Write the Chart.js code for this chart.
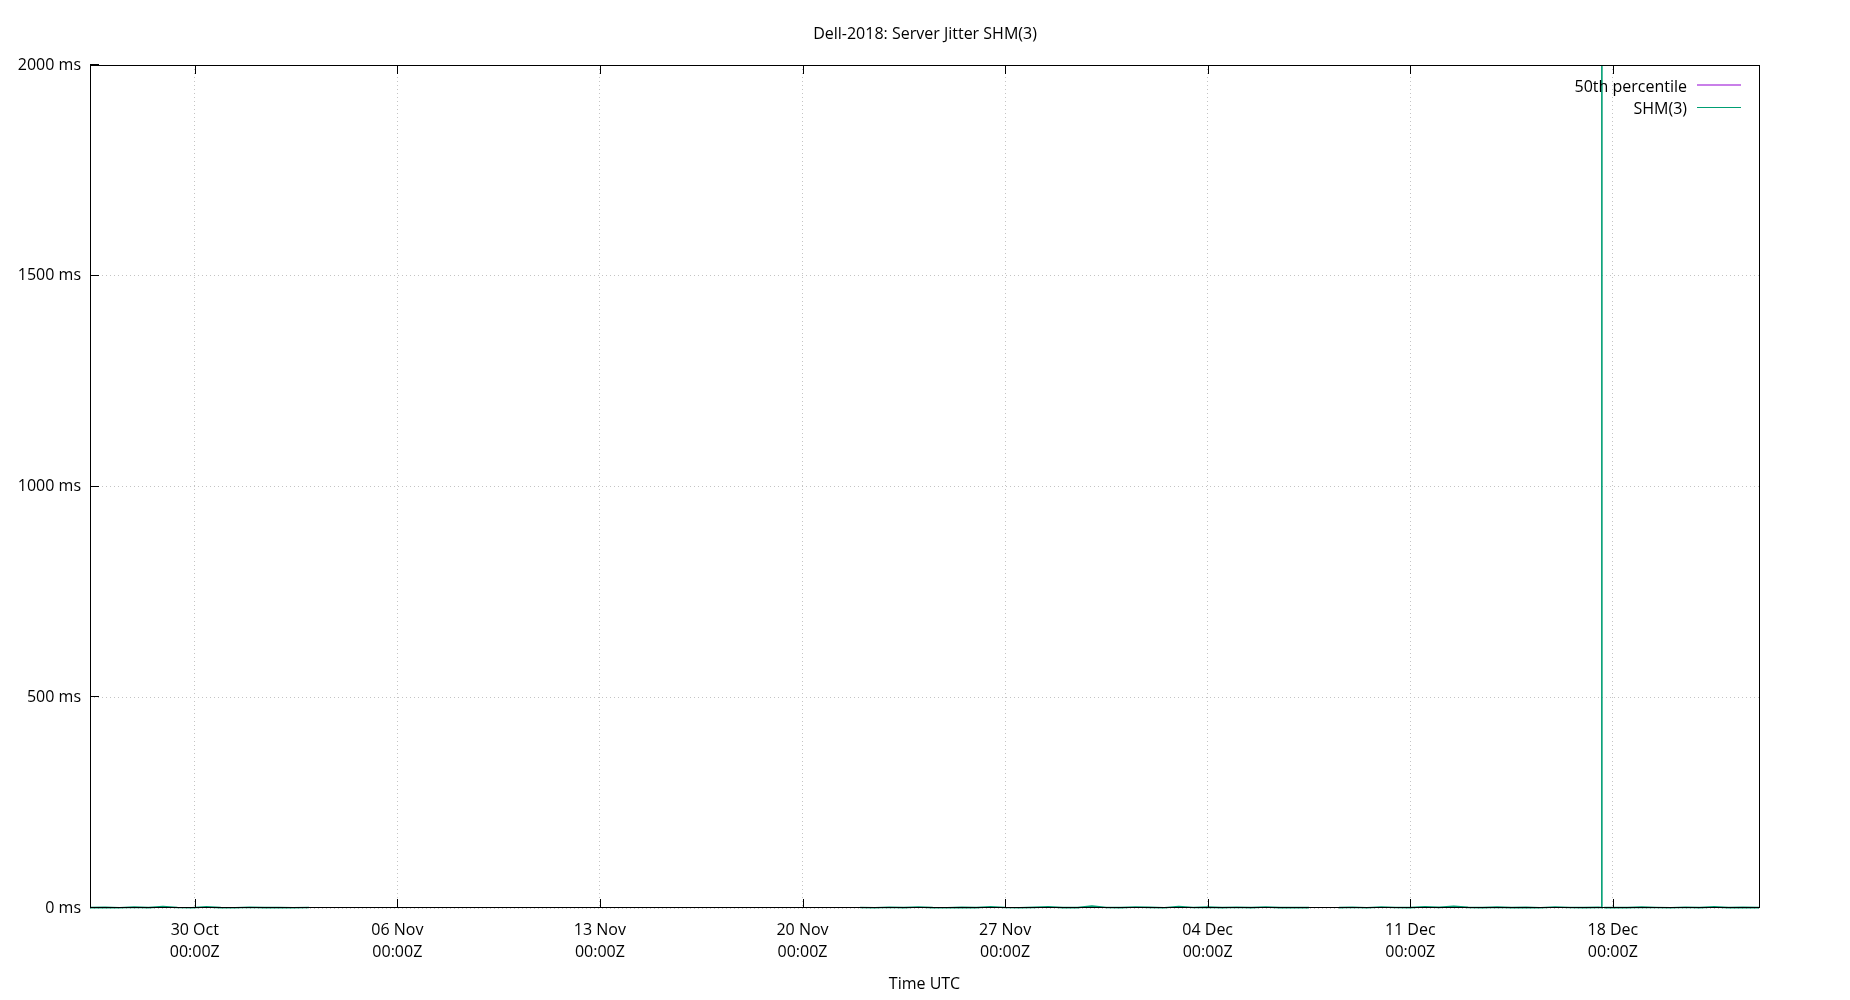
<!DOCTYPE html>
<html>
<head>
<meta charset="utf-8">
<script src="https://cdn.jsdelivr.net/npm/chart.js@4.4.1/dist/chart.umd.min.js"></script>
<style>
  html, body { margin: 0; padding: 0; background: #ffffff; }
  #wrap { width: 1850px; height: 1000px; }
</style>
</head>
<body>
<div id="wrap"><canvas id="c" width="1850" height="1000"></canvas></div>
<script>
// ---- data (days relative to 30 Oct 00:00Z; values in ms) ----
const chartTitle = "Dell-2018: Server Jitter SHM(3)";
const xAxisTitle = "Time UTC";
const xTickDays = [0, 7, 14, 21, 28, 35, 42, 49];
const xTickLabels = [
  ["30 Oct", "00:00Z"], ["06 Nov", "00:00Z"], ["13 Nov", "00:00Z"], ["20 Nov", "00:00Z"],
  ["27 Nov", "00:00Z"], ["04 Dec", "00:00Z"], ["11 Dec", "00:00Z"], ["18 Dec", "00:00Z"]
];
const yTicksMs = [0, 500, 1000, 1500, 2000];
const xRangeDays = [-3.62, 54.05];
const yRangeMs = [0, 2000];

const timesDays = [
  -3.62, -3.1, -2.6, -2.1, -1.6, -1.1, -0.6, -0.1, 0.4, 0.9, 1.4, 1.9, 2.4, 2.9, 3.4, 3.95,
  8.0,
  22.99, 23.5, 24.0, 24.5, 25.0, 25.5, 26.0, 26.5, 27.0, 27.5, 28.0, 28.5, 29.0, 29.5, 30.0, 30.5,
  31.0, 31.5, 32.0, 32.5, 33.0, 33.5, 34.0, 34.5, 35.0, 35.5, 36.0, 36.5, 37.0, 37.5, 38.0, 38.5,
  39.0,
  39.54, 40.0, 40.5, 41.0, 41.5, 42.0, 42.5, 43.0, 43.5, 44.0, 44.5, 45.0, 45.5, 46.0, 46.5, 47.0,
  47.5, 48.0, 48.5, 48.62,
  48.64,
  48.65,
  48.70, 49.0, 49.5, 50.0, 50.5, 51.0, 51.5, 52.0, 52.5, 53.0, 53.5, 54.05
];
const shmJitterMs = [
  0.8, 1.4, 0.6, 2.1, 0.9, 3.2, 1.1, 0.7, 2.6, 1.0, 0.5, 1.8, 0.9, 1.3, 0.6, 1.2,
  null,
  1.1, 0.7, 1.9, 0.8, 2.4, 1.0, 0.6, 1.5, 0.9, 2.8, 1.2, 0.7, 1.6, 3.1, 1.0, 0.8,
  4.6, 1.3, 0.9, 2.2, 1.4, 0.7, 3.4, 1.1, 2.0, 0.8, 1.7, 1.0, 2.5, 0.9, 1.3, 0.8,
  null,
  1.0, 1.8, 0.7, 2.3, 1.1, 0.9, 2.9, 1.4, 3.8, 1.6, 0.8, 2.1, 1.0, 1.5, 0.7, 2.4,
  1.2, 0.9, 1.6, 1.1,
  50000,
  null,
  0.9, 1.3, 0.8, 2.0, 1.1, 0.7, 1.9, 1.0, 2.6, 0.8, 1.4, 1.0
];
const percentileTimesDays = [-3.62, 54.05];
const percentile50Ms = [0.9, 0.9];

const seriesLabels = ["50th percentile", "SHM(3)"];
const seriesColors = ["#9400d3", "#009e73"];

// ---- chart ----
const FONT = "'Open Sans', 'Noto Sans', sans-serif";

const framePlugin = {
  id: 'frame',
  afterDatasetsDraw(chart) {
    const {ctx, chartArea: a, scales} = chart;
    ctx.save();
    ctx.strokeStyle = '#000';
    ctx.lineWidth = 1;
    ctx.beginPath();
    scales.x.ticks.forEach(t => {
      const px = Math.round(scales.x.getPixelForValue(t.value)) + 0.5;
      ctx.moveTo(px, a.bottom); ctx.lineTo(px, a.bottom - 9);
      ctx.moveTo(px, a.top); ctx.lineTo(px, a.top + 9);
    });
    scales.y.ticks.forEach(t => {
      const py = Math.round(scales.y.getPixelForValue(t.value)) - 0.5;
      ctx.moveTo(a.left, py); ctx.lineTo(a.left + 9, py);
    });
    ctx.stroke();
    ctx.strokeRect(Math.round(a.left) + 0.5, Math.round(a.top) + 0.5,
                   Math.round(a.right - a.left), Math.round(a.bottom - a.top) - 1);
    ctx.restore();
  },
  afterDraw(chart) {
    const {ctx} = chart;
    ctx.save();
    ctx.font = "16px " + FONT;
    ctx.textAlign = 'right';
    ctx.textBaseline = 'alphabetic';
    const rows = [{base: 91.5, line: 85}, {base: 113.5, line: 107.5}];
    chart.data.datasets.forEach((ds, i) => {
      ctx.fillStyle = '#000';
      ctx.fillText(ds.label, 1687, rows[i].base);
      ctx.strokeStyle = ds.borderColor;
      ctx.lineWidth = 1.2;
      ctx.beginPath();
      ctx.moveTo(1697, rows[i].line);
      ctx.lineTo(1741, rows[i].line);
      ctx.stroke();
    });
    ctx.restore();
  }
};

new Chart(document.getElementById('c'), {
  type: 'line',
  data: {
    datasets: [
      {
        label: seriesLabels[0],
        data: percentileTimesDays.map((t, i) => ({x: t, y: percentile50Ms[i]})),
        borderColor: seriesColors[0],
        backgroundColor: seriesColors[0],
        borderWidth: 1,
        pointRadius: 0,
        yAxisID: 'y',
        order: 1
      },
      {
        label: seriesLabels[1],
        data: timesDays.map((t, i) => ({x: t, y: shmJitterMs[i]})),
        borderColor: seriesColors[1],
        backgroundColor: seriesColors[1],
        borderWidth: 1.6,
        pointRadius: 0,
        tension: 0,
        spanGaps: false,
        yAxisID: 'y',
        clip: {left: 0, top: 0, right: 0, bottom: 3},
        order: 0
      }
    ]
  },
  options: {
    responsive: false,
    animation: false,
    devicePixelRatio: 1,
    layout: { padding: 0 },
    plugins: {
      legend: { display: false },
      tooltip: { enabled: false },
      title: {
        display: true,
        text: chartTitle,
        color: '#000',
        font: { family: FONT, size: 16, weight: 'normal', lineHeight: 1.2 },
        padding: { top: 24.5, bottom: 21.3 }
      }
    },
    scales: {
      x: {
        type: 'linear',
        min: xRangeDays[0],
        max: xRangeDays[1],
        afterBuildTicks: (scale) => { scale.ticks = xTickDays.map(v => ({value: v})); },
        afterFit: (scale) => { scale.height = 92; },
        ticks: {
          autoSkip: false,
          maxRotation: 0,
          padding: 11,
          color: '#000',
          font: { family: FONT, size: 16, lineHeight: 1.4 },
          callback: (v, i) => xTickLabels[i]
        },
        grid: { color: '#c4c4c4', lineWidth: 1, drawTicks: false },
        border: { display: false, dash: [1, 3] },
        title: {
          display: true,
          text: xAxisTitle,
          color: '#000',
          font: { family: FONT, size: 16, lineHeight: 1.2 },
          padding: { top: 0, bottom: 5.5 }
        }
      },
      y: {
        type: 'linear',
        position: 'left',
        min: yRangeMs[0],
        max: yRangeMs[1],
        afterBuildTicks: (scale) => { scale.ticks = yTicksMs.map(v => ({value: v})); },
        afterFit: (scale) => { scale.width = 90; },
        ticks: {
          padding: 9,
          color: '#000',
          font: { family: FONT, size: 16 },
          callback: (v) => v + ' ms'
        },
        grid: { color: '#c4c4c4', lineWidth: 1, drawTicks: false },
        border: { display: false, dash: [1, 3] }
      },
      yRightSpace: {
        type: 'linear',
        position: 'right',
        min: yRangeMs[0],
        max: yRangeMs[1],
        afterFit: (scale) => { scale.width = 91; },
        ticks: { display: false },
        grid: { display: false, drawTicks: false },
        border: { display: false }
      }
    }
  },
  plugins: [framePlugin]
});
</script>
</body>
</html>
